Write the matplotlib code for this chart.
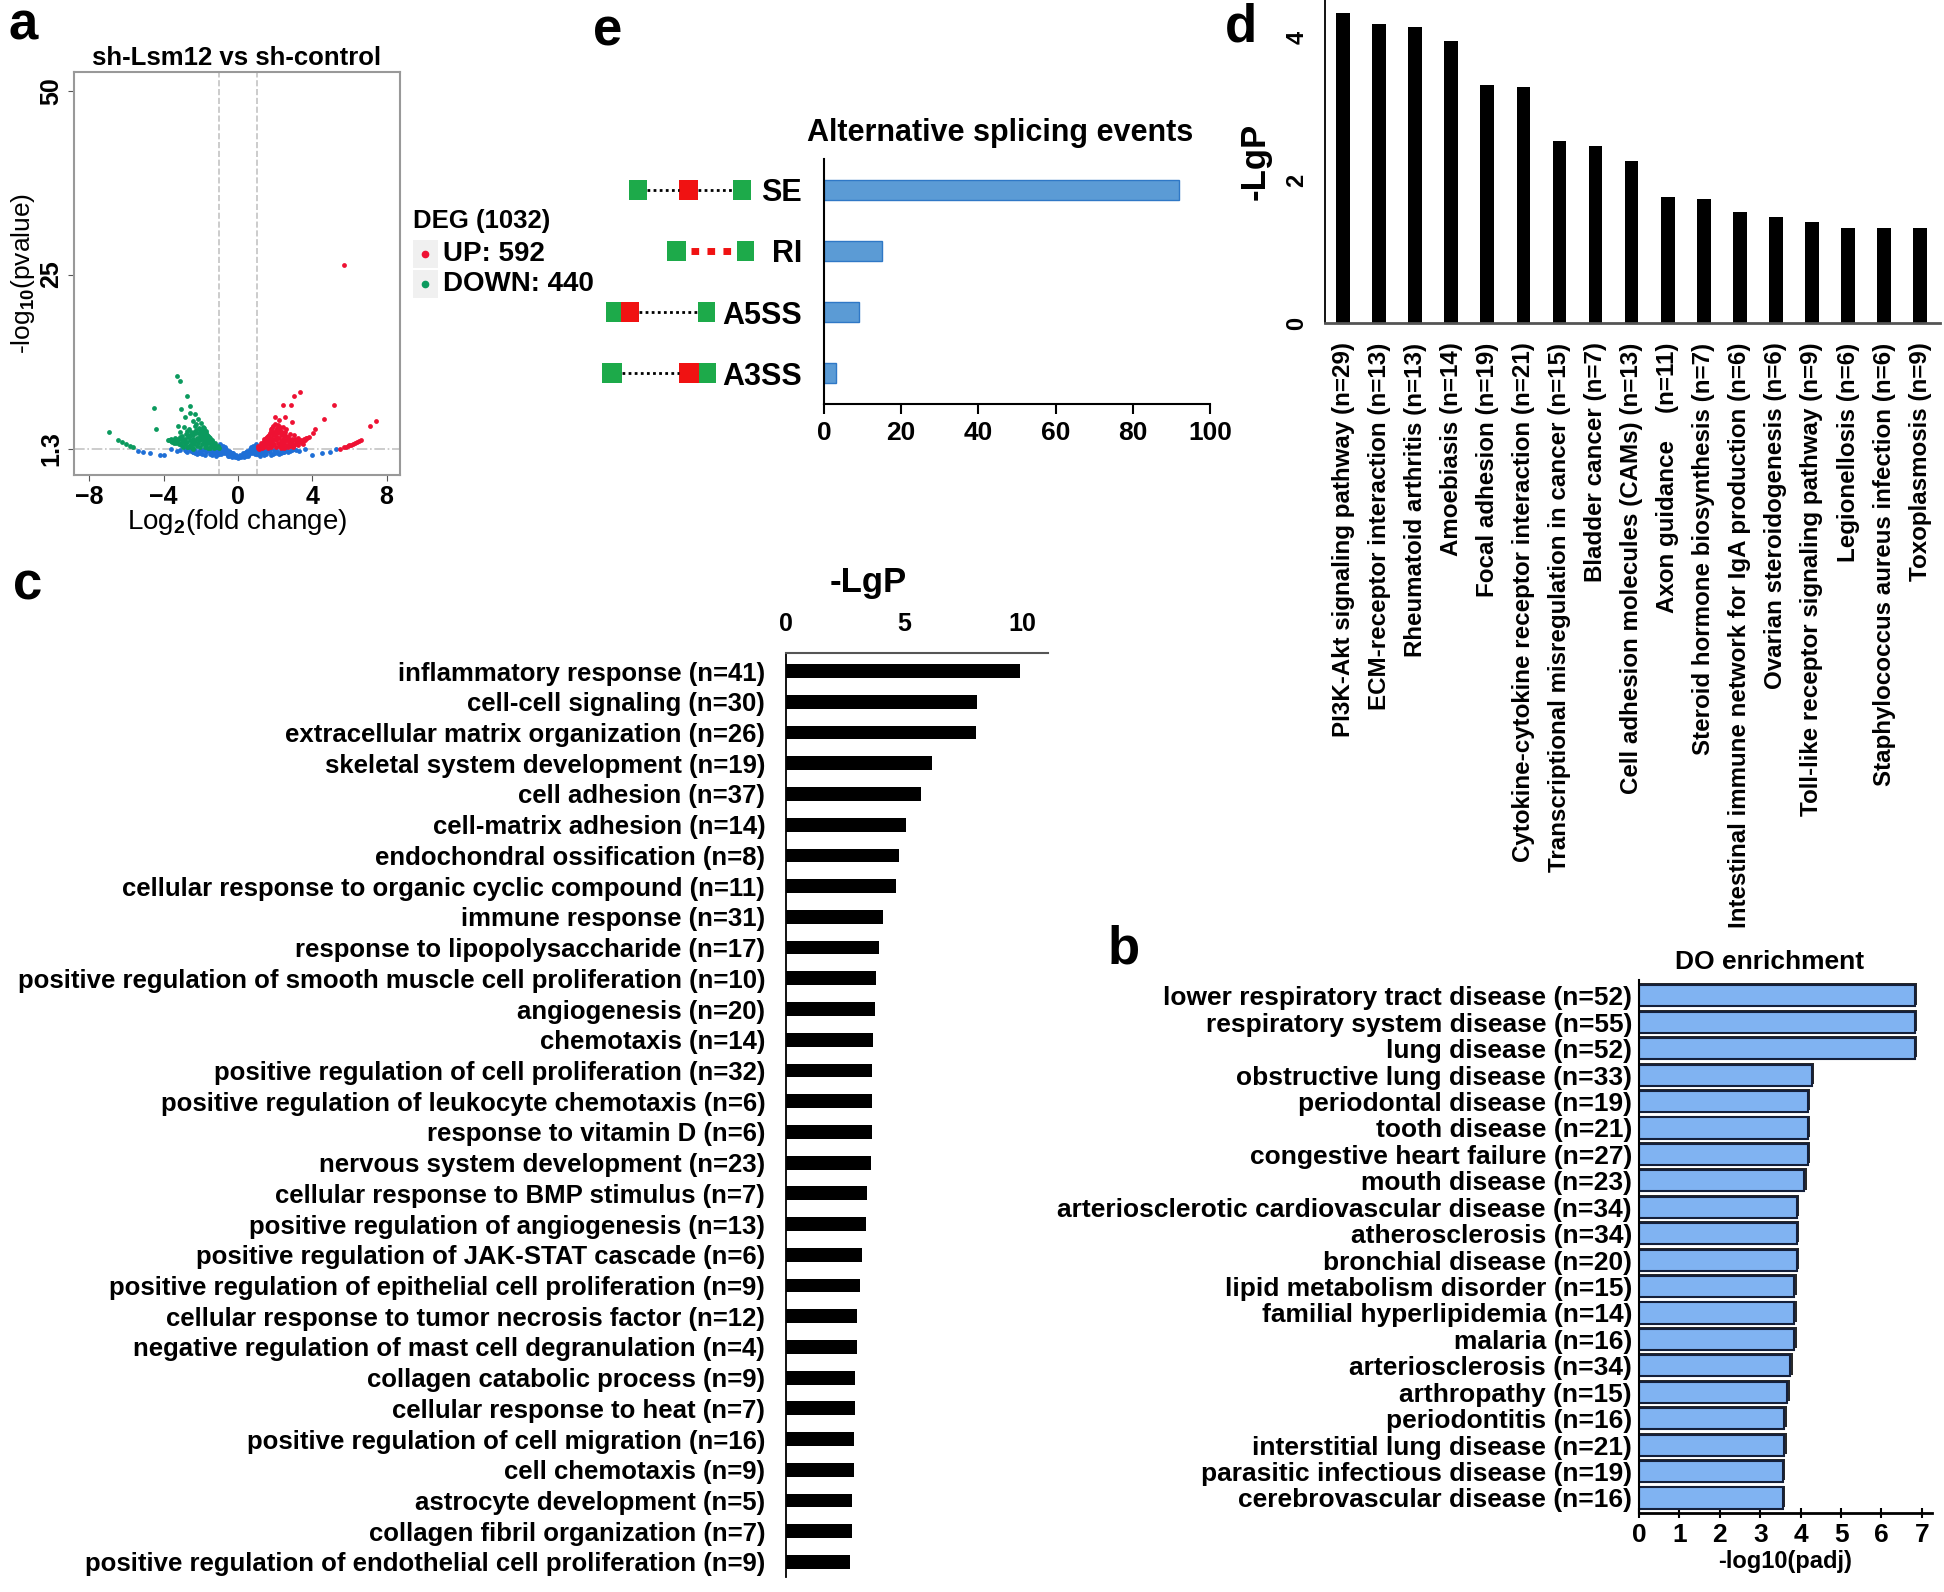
import matplotlib
matplotlib.use("Agg")
import matplotlib.pyplot as plt
from matplotlib.patches import Rectangle
from matplotlib.lines import Line2D

plt.rcParams['font.family'] = ['Liberation Sans', 'DejaVu Sans']
plt.rcParams['font.weight'] = 'bold'
plt.rcParams['mathtext.fontset'] = 'custom'
plt.rcParams['mathtext.rm'] = 'Liberation Sans:bold'
plt.rcParams['mathtext.bf'] = 'Liberation Sans:bold'
plt.rcParams['mathtext.default'] = 'bf'

# ---------------- data ----------------
# a: volcano
up_x = [1.05, 1.1, 1.2, 1.25, 1.3, 1.35, 1.4, 1.45, 1.5, 1.55, 1.6, 1.62, 1.65, 1.7, 1.72, 1.75, 1.8, 1.8,
        1.85, 1.86, 1.9, 1.92, 1.95, 1.96, 2.0, 2.02, 2.05, 2.06, 2.1, 2.12, 2.15, 2.16, 2.2, 2.22, 2.25,
        2.3, 2.31, 2.35, 2.4, 2.42, 2.45, 2.5, 2.52, 2.55, 2.6, 2.65, 2.7, 2.75, 2.8, 2.82, 2.9, 2.92,
        3.0, 3.02, 3.1, 3.2, 3.22, 3.3, 3.4, 3.5, 3.6, 3.7, 3.8, 2.6, 2.2, 2.0, 1.58, 1.42, 1.15,
        1.28, 1.48, 1.68, 1.88, 2.08, 2.28, 2.48, 2.68, 1.38, 1.58, 1.78, 1.98, 2.18, 2.38, 1.12,
        1.15, 1.25, 1.35, 1.45, 1.55, 1.65, 1.75, 1.85, 2.05, 2.25, 2.35, 2.5, 2.6, 2.75, 2.9,
        3.05, 3.15, 3.35, 3.45, 2.7, 2.45, 2.95, 3.25, 3.5,
        2.43, 2.84, 3.04, 3.31, 5.17, 2.53, 2.88, 4.65, 7.44, 7.13, 4.12, 4.01, 5.7,
        5.5, 5.7, 5.9, 6.1, 6.3, 6.5, 6.6, 5.8, 6.0, 6.2, 6.4, 2.32, 2.84, 3.25, 3.56, 3.66]
up_y = [1.4, 1.7, 1.5, 2.0, 1.4, 1.8, 2.3, 1.6, 2.7, 2.0, 1.4, 3.0, 2.4, 1.8, 3.4, 2.8, 1.5, 3.9,
        2.2, 3.2, 4.4, 2.6, 1.9, 3.6, 4.7, 3.0, 1.5, 2.4, 4.1, 3.4, 2.0, 4.5, 2.8, 1.6, 3.8,
        2.3, 3.2, 1.8, 4.3, 2.6, 3.0, 2.1, 1.5, 3.6, 2.5, 1.8, 2.9, 2.2, 1.6, 3.3, 2.0, 2.6,
        1.8, 3.1, 2.3, 2.0, 2.8, 2.2, 2.5, 2.3, 2.5, 2.7, 2.9, 4.0, 5.2, 5.6, 1.9, 1.5, 1.3,
        1.65, 2.15, 2.15, 1.75, 2.75, 1.95, 2.35, 2.45, 2.55, 2.55, 2.45, 3.25, 3.55, 3.45, 1.55,
        1.55, 1.75, 2.1, 2.45, 2.85, 3.2, 3.65, 4.1, 3.85, 4.25, 3.55, 3.3, 2.95, 2.65, 2.35,
        2.6, 1.9, 2.35, 2.1, 1.45, 1.35, 1.55, 1.75, 1.95,
        7.3, 7.2, 8.4, 9.0, 7.2, 5.6, 4.9, 5.3, 5.1, 4.4, 3.9, 3.4, 26.3,
        1.3, 1.5, 1.65, 1.85, 2.05, 2.3, 2.45, 1.55, 1.75, 1.95, 2.15, 1.35, 1.8, 2.25, 2.6, 2.8]
down_x = [-1.05, -1.1, -1.2, -1.25, -1.3, -1.35, -1.4, -1.45, -1.5, -1.55, -1.6, -1.62, -1.65, -1.7,
          -1.72, -1.75, -1.8, -1.81, -1.85, -1.86, -1.9, -1.92, -1.95, -1.96, -2.0, -2.02, -2.05,
          -2.06, -2.1, -2.12, -2.15, -2.16, -2.2, -2.22, -2.25, -2.3, -2.31, -2.35, -2.4, -2.42,
          -2.45, -2.5, -2.55, -2.6, -2.65, -2.7, -2.75, -2.8, -2.85, -2.9, -2.95, -3.0, -3.05, -3.1,
          -3.2, -3.3, -3.4, -3.5, -3.6, -3.7, -2.52, -1.52,
          -1.28, -1.48, -1.68, -1.88, -2.08, -2.28, -2.48, -2.68, -2.88, -1.38, -1.78, -2.18, -2.58,
          -1.15, -1.25, -1.35, -1.45, -1.55, -1.65, -1.75, -1.85, -2.05, -2.25, -2.35, -2.5, -2.6,
          -2.75, -2.9, -3.05, -3.15, -3.35, -3.45, -2.7, -2.45, -2.95, -3.2, -3.6,
          -3.29, -3.15, -2.74, -4.53, -3.05, -2.59, -2.84, -2.32, -4.43, -6.97, -3.25, -2.6,
          -6.45, -6.25, -6.04, -5.83, -5.63, -3.77, -3.56, -3.35, -3.05, -2.74, -2.43]
down_y = [1.4, 1.7, 1.5, 2.0, 1.4, 1.8, 2.3, 1.6, 2.7, 2.0, 1.4, 3.0, 2.4, 1.8,
          3.4, 2.8, 1.5, 3.8, 2.2, 3.2, 4.3, 2.6, 1.9, 3.6, 4.8, 3.0, 1.5,
          2.4, 4.1, 3.4, 2.0, 5.3, 2.8, 1.7, 3.8, 2.3, 4.4, 1.9, 3.1, 2.6,
          5.0, 2.1, 3.5, 2.5, 4.0, 2.9, 2.2, 3.3, 2.6, 4.3, 2.4, 3.0, 2.1, 3.6,
          2.6, 2.3, 2.8, 2.5, 2.6, 2.5, 1.5, 1.35,
          1.65, 2.15, 2.15, 2.95, 2.65, 3.45, 2.35, 3.15, 1.95, 2.45, 2.45, 2.55, 1.85,
          1.55, 1.75, 2.1, 2.45, 2.85, 3.2, 3.65, 4.1, 3.85, 4.6, 3.55, 3.3, 2.95,
          3.7, 2.35, 2.6, 2.9, 2.6, 2.1, 1.45, 1.35, 1.55, 1.9, 2.3,
          11.25, 10.5, 8.4, 6.85, 6.75, 7.1, 5.6, 6.0, 4.0, 3.5, 4.4, 6.2,
          2.5, 2.2, 1.96, 1.7, 1.45, 2.5, 2.25, 2.0, 1.8, 1.55, 1.3]
ns_x = [0.0, 0.15, -0.14, 0.3, -0.31, 0.32, -0.29, 0.45, -0.46, 0.44, -0.45, 0.6, -0.61, 0.62, -0.6,
        0.75, -0.74, 0.76, -0.75, 0.9, -0.91, 0.92, -0.9, 0.9, -0.89, 0.98, -0.99, 0.8, -0.82, 0.68,
        -0.7, 1.1, -1.1, 1.12, -1.09, 1.3, -1.31, 1.32, -1.3, 1.5, -1.52, 1.51, -1.5, 1.7, -1.71,
        1.72, -1.7, 1.9, -1.92, 1.91, -1.9, 2.1, -2.12, 2.3, -2.31, 2.32, -2.3, 2.5, -2.52, 2.7,
        -2.72, 2.9, -2.88, 1.2, -1.21, 0.2, -0.21, 0.05, -0.06, 0.55, -0.55, 1.0, -1.0, 1.4, -1.4,
        1.8, -1.8, 2.0, -2.02, 2.2, -2.2, 2.6, -2.6, 0.38, -0.38,
        0.1, -0.1, 0.25, -0.25, 0.5, -0.5, 0.85, -0.85, 1.15, -1.15, 1.6, -1.6, 2.4, -2.4,
        0.35, -0.35, 0.55, -0.56, 0.7, -0.71, 0.85, -0.84, 1.05, -1.06, 1.25, -1.24, 1.45, -1.46,
        1.65, -1.66, 2.05, -2.04, 2.15, -2.16, 2.45, -2.44, 2.8, -2.81, 3.1, -3.1, 0.65, -0.64,
        0.95, -0.96,
        -5.11, -4.74, -4.18, -5.4, 3.97, 4.53, 4.96, 5.27, -3.6, -3.3, 3.3, 3.6, -4.0, 3.0]
ns_y = [0.0, 0.1, 0.1, 0.2, 0.2, 0.5, 0.5, 0.35, 0.35, 0.8, 0.8, 0.5, 0.5, 1.0, 1.0,
        0.7, 0.7, 1.3, 1.3, 0.6, 0.6, 1.0, 1.0, 1.6, 1.6, 1.95, 1.9, 1.65, 1.65, 1.45,
        1.45, 0.5, 0.5, 1.0, 1.0, 0.7, 0.7, 1.15, 1.15, 0.6, 0.6, 1.0, 1.0, 0.8, 0.8,
        1.2, 1.2, 0.6, 0.6, 1.05, 1.05, 0.9, 0.9, 0.7, 0.7, 1.15, 1.15, 1.0, 1.0, 0.8,
        0.8, 1.1, 1.1, 0.3, 0.3, 0.3, 0.3, 0.2, 0.2, 0.25, 0.25, 0.6, 0.6, 0.4, 0.4,
        0.45, 0.45, 0.75, 0.75, 0.55, 0.55, 1.2, 1.2, 0.7, 0.7,
        0.4, 0.4, 0.65, 0.65, 0.95, 0.95, 1.25, 1.25, 0.8, 0.8, 1.05, 1.05, 0.85, 0.85,
        0.65, 0.65, 0.75, 0.75, 0.9, 0.9, 1.1, 1.1, 1.25, 1.25, 0.9, 0.9, 0.8, 0.8,
        1.05, 1.05, 1.15, 1.15, 0.7, 0.7, 0.85, 0.85, 0.95, 0.95, 1.1, 1.1, 1.2, 1.2,
        1.45, 1.45,
        0.83, 0.64, 0.36, 1.0, 0.36, 0.7, 0.9, 1.2, 1.2, 1.0, 1.0, 1.2, 0.4, 1.2]

# e: alternative splicing events
as_types = ['SE', 'RI', 'A5SS', 'A3SS']
as_counts = [92, 15, 9, 3]

# d: KEGG
d_terms = ['PI3K-Akt signaling pathway (n=29)', 'ECM-receptor interaction (n=13)',
           'Rheumatoid arthritis (n=13)', 'Amoebiasis (n=14)', 'Focal adhesion (n=19)',
           'Cytokine-cytokine receptor interaction (n=21)',
           'Transcriptional misregulation in cancer (n=15)', 'Bladder cancer (n=7)',
           'Cell adhesion molecules (CAMs) (n=13)', 'Axon guidance    (n=11)',
           'Steroid hormone biosynthesis (n=7)',
           'Intestinal immune network for IgA production (n=6)',
           'Ovarian steroidogenesis (n=6)', 'Toll-like receptor signaling pathway (n=9)',
           'Legionellosis (n=6)', 'Staphylococcus aureus infection (n=6)', 'Toxoplasmosis (n=9)']
d_vals = [4.34, 4.18, 4.14, 3.95, 3.33, 3.30, 2.54, 2.47, 2.27, 1.77, 1.73, 1.56, 1.48,
          1.41, 1.33, 1.33, 1.33]

# c: GO
c_terms = ['inflammatory response (n=41)', 'cell-cell signaling (n=30)',
           'extracellular matrix organization (n=26)', 'skeletal system development (n=19)',
           'cell adhesion (n=37)', 'cell-matrix adhesion (n=14)',
           'endochondral ossification (n=8)', 'cellular response to organic cyclic compound (n=11)',
           'immune response (n=31)', 'response to lipopolysaccharide (n=17)',
           'positive regulation of smooth muscle cell proliferation (n=10)',
           'angiogenesis (n=20)', 'chemotaxis (n=14)',
           'positive regulation of cell proliferation (n=32)',
           'positive regulation of leukocyte chemotaxis (n=6)', 'response to vitamin D (n=6)',
           'nervous system development (n=23)', 'cellular response to BMP stimulus (n=7)',
           'positive regulation of angiogenesis (n=13)',
           'positive regulation of JAK-STAT cascade (n=6)',
           'positive regulation of epithelial cell proliferation (n=9)',
           'cellular response to tumor necrosis factor (n=12)',
           'negative regulation of mast cell degranulation (n=4)',
           'collagen catabolic process (n=9)', 'cellular response to heat (n=7)',
           'positive regulation of cell migration (n=16)', 'cell chemotaxis (n=9)',
           'astrocyte development (n=5)', 'collagen fibril organization (n=7)',
           'positive regulation of endothelial cell proliferation (n=9)']
c_vals = [9.9, 8.1, 8.03, 6.18, 5.72, 5.08, 4.79, 4.68, 4.1, 3.93, 3.82, 3.78, 3.7, 3.65,
          3.65, 3.65, 3.58, 3.42, 3.37, 3.22, 3.12, 2.99, 2.99, 2.93, 2.93, 2.88, 2.88, 2.8,
          2.8, 2.71]

# b: DO enrichment
b_terms = ['lower respiratory tract disease (n=52)', 'respiratory system disease (n=55)',
           'lung disease (n=52)', 'obstructive lung disease (n=33)',
           'periodontal disease (n=19)', 'tooth disease (n=21)',
           'congestive heart failure (n=27)', 'mouth disease (n=23)',
           'arteriosclerotic cardiovascular disease (n=34)', 'atherosclerosis (n=34)',
           'bronchial disease (n=20)', 'lipid metabolism disorder (n=15)',
           'familial hyperlipidemia (n=14)', 'malaria (n=16)', 'arteriosclerosis (n=34)',
           'arthropathy (n=15)', 'periodontitis (n=16)', 'interstitial lung disease (n=21)',
           'parasitic infectious disease (n=19)', 'cerebrovascular disease (n=16)']
b_vals = [6.83, 6.83, 6.83, 4.28, 4.18, 4.18, 4.18, 4.09, 3.91, 3.91, 3.91, 3.84, 3.84,
          3.84, 3.74, 3.67, 3.6, 3.6, 3.56, 3.56]

# ---------------- layout helpers ----------------
W, H = 1944, 1592


def rect(l, t, r, b):
    return [l / W, 1 - b / H, (r - l) / W, (b - t) / H]


def ftext(x, y, s, **kw):
    fig.text(x / W, 1 - y / H, s, **kw)


fig = plt.figure(figsize=(W / 100, H / 100), dpi=100)

# panel letters
for letter, (lx, ly) in {'a': (23, 25), 'e': (608, 31), 'd': (1241, 27),
                         'c': (28, 585), 'b': (1124, 950)}.items():
    ftext(lx, ly, letter, fontsize=38, fontweight='bold', ha='center', va='center')

# ---------------- a: volcano ----------------
ax = fig.add_axes(rect(74, 72, 400, 475))
ax.scatter(ns_x, ns_y, s=12, color='#1f6fd6', linewidths=0)
ax.scatter(down_x, down_y, s=12, color='#0b9a5e', linewidths=0)
ax.scatter(up_x, up_y, s=12, color='#ee1133', linewidths=0)
ax.axvline(-1, color='#c4c4c4', ls='--', lw=1.2, zorder=0)
ax.axvline(1, color='#c4c4c4', ls='--', lw=1.2, zorder=0)
ax.axhline(1.3, color='#c4c4c4', ls='-.', lw=1.2, zorder=0)
ax.set_xlim(-8.83, 8.72)
ax.set_ylim(-2.3, 52.6)
ax.set_xticks([-8, -4, 0, 4, 8])
ax.set_yticks([1.3, 25, 50])
ax.set_yticklabels(['1.3', '25', '50'], rotation=90, va='center')
ax.tick_params(labelsize=18, color='#555555', length=4)
for sp in ax.spines.values():
    sp.set_color('#999999')
    sp.set_linewidth(1.5)
ax.set_title('sh-Lsm12 vs sh-control', fontsize=18.5, fontweight='bold', pad=5)
ax.set_xlabel('Log$_2$(fold change)', fontsize=20, labelpad=-2)
ax.set_ylabel('-log$_{10}$(pvalue)', fontsize=19, labelpad=2)

# legend drawn by hand (ggplot style keys)
ftext(413, 221, 'DEG (1032)', fontsize=18.5, fontweight='bold', va='center')
for ky, lab, col in [(254, 'UP: 592', '#ee1133'), (284, 'DOWN: 440', '#0b9a5e')]:
    fig.add_artist(Rectangle((413 / W, 1 - (ky + 14) / H), 25 / W, 28 / H,
                             transform=fig.transFigure, color='#f0f0f0', lw=0))
    fig.add_artist(Line2D([425 / W], [1 - ky / H], transform=fig.transFigure,
                          marker='o', ms=4.5, color=col, lw=0))
    ftext(443, ky, lab, fontsize=20, fontweight='bold', va='center')

# ---------------- e: splicing ----------------
ax = fig.add_axes(rect(824, 159, 1210, 404))
ypos = [3, 2, 1, 0]
ax.barh(ypos, as_counts, height=0.33, color='#5b9bd5', edgecolor='#2f78c6', lw=1)
ax.set_xlim(0, 100)
ax.set_ylim(-0.5, 3.5)
ax.set_yticks(ypos)
ax.set_yticklabels(as_types, fontsize=22)
ax.set_xticks([0, 20, 40, 60, 80, 100])
ax.tick_params(axis='y', length=0, pad=16)
ax.tick_params(axis='x', labelsize=19, length=7, width=1.5, pad=5)
ax.spines['top'].set_visible(False)
ax.spines['right'].set_visible(False)
ax.spines['left'].set_linewidth(1.5)
ax.spines['bottom'].set_linewidth(1.5)
ftext(1000, 133, 'Alternative splicing events', fontsize=22, fontweight='bold',
      ha='center', va='center')

# exon icons
ai = fig.add_axes(rect(595, 159, 760, 404))
ai.set_xlim(595, 760)
ai.set_ylim(-0.5, 3.5)
ai.axis('off')
G, R = '#1daa4a', '#f01212'
hh = 0.165
icons = {
    3: ([(629, 647, G), (679, 698, R), (733, 751, G)], [(647, 679), (698, 733)]),
    2: ([(667, 686, G), (737, 754, G)], []),
    1: ([(606, 621, G), (621, 639, R), (698, 715, G)], [(639, 698)]),
    0: ([(602, 622, G), (679, 699, R), (699, 716, G)], [(622, 679)]),
}
for yy, (boxes, dots) in icons.items():
    for x0, x1 in dots:
        ai.plot([x0, x1], [yy, yy], color='black', lw=2, ls=(0, (1, 1.2)))
    for x0, x1, col in boxes:
        ai.add_patch(Rectangle((x0, yy - hh), x1 - x0, 2 * hh, color=col, lw=0))
ai.plot([691, 731], [2, 2], color=R, lw=5, ls=(0, (1.1, 1.2)))

# ---------------- d: KEGG ----------------
ax = fig.add_axes(rect(1325, 0, 1940, 323))
ax.bar(range(len(d_vals)), d_vals, width=0.38, color='black')
ax.set_xlim(-0.5, 16.55)
ax.set_ylim(0, 4.52)
ax.set_xticks(range(len(d_terms)))
ax.set_xticklabels(d_terms, rotation=90, ha='center', va='top', fontsize=17.4)
ax.set_yticks([0, 2, 4])
ax.set_yticklabels(['0', '2', '4'], rotation=90, va='center', fontsize=17)
ax.tick_params(axis='x', length=0, pad=14)
ax.tick_params(axis='y', length=0, pad=12)
ax.spines['top'].set_visible(False)
ax.spines['right'].set_visible(False)
ax.spines['left'].set_linewidth(1.3)
ax.spines['bottom'].set_color('#555555')
ax.spines['bottom'].set_linewidth(2)
ax.set_ylabel('-LgP', fontsize=25, fontweight='bold', labelpad=10)

# ---------------- c: GO ----------------
ax = fig.add_axes(rect(786, 653, 1048, 1577))
ax.barh(range(len(c_vals)), c_vals, height=0.45, color='black')
ax.set_xlim(0, 11.1)
ax.set_ylim(29.49, -0.59)
ax.set_yticks(range(len(c_terms)))
ax.set_yticklabels(c_terms, fontsize=18.5)
ax.xaxis.tick_top()
ax.set_xticks([0, 5, 10])
ax.tick_params(axis='x', labelsize=18, length=0, pad=12)
ax.tick_params(axis='y', length=0, pad=15)
ax.spines['bottom'].set_visible(False)
ax.spines['right'].set_visible(False)
ax.spines['top'].set_color('#555555')
ax.spines['top'].set_linewidth(1.5)
ax.spines['left'].set_linewidth(1.3)
ftext(868, 583, '-LgP', fontsize=25, fontweight='bold', ha='center', va='center')

# ---------------- b: DO ----------------
ax = fig.add_axes(rect(1639, 980, 1932, 1513))
yb = list(range(len(b_vals)))
ax.barh([y - 0.07 for y in yb], [v + 0.06 for v in b_vals], height=0.8,
        color='#2a2a2a', lw=0, zorder=1)
ax.barh(yb, b_vals, height=0.8, color='#80b3f2', edgecolor='#15203a', lw=1.5, zorder=2)
ax.set_xlim(0, 7.25)
ax.set_ylim(19.57, -0.6)
ax.set_yticks(yb)
ax.set_yticklabels(b_terms, fontsize=19)
ax.set_xticks(range(8))
ax.tick_params(axis='y', length=0, pad=5)
ax.tick_params(axis='x', labelsize=19, direction='inout', length=7, width=1.5, pad=4)
ax.spines['top'].set_visible(False)
ax.spines['right'].set_visible(False)
ax.spines['bottom'].set_linewidth(2)
ax.spines['left'].set_linewidth(1.5)
ax.set_xlabel('-log10(padj)', fontsize=17, fontweight='bold', labelpad=2)
ftext(1770, 962, 'DO enrichment', fontsize=19, fontweight='bold', ha='center', va='center')

fig.savefig('out.png', dpi=100)
